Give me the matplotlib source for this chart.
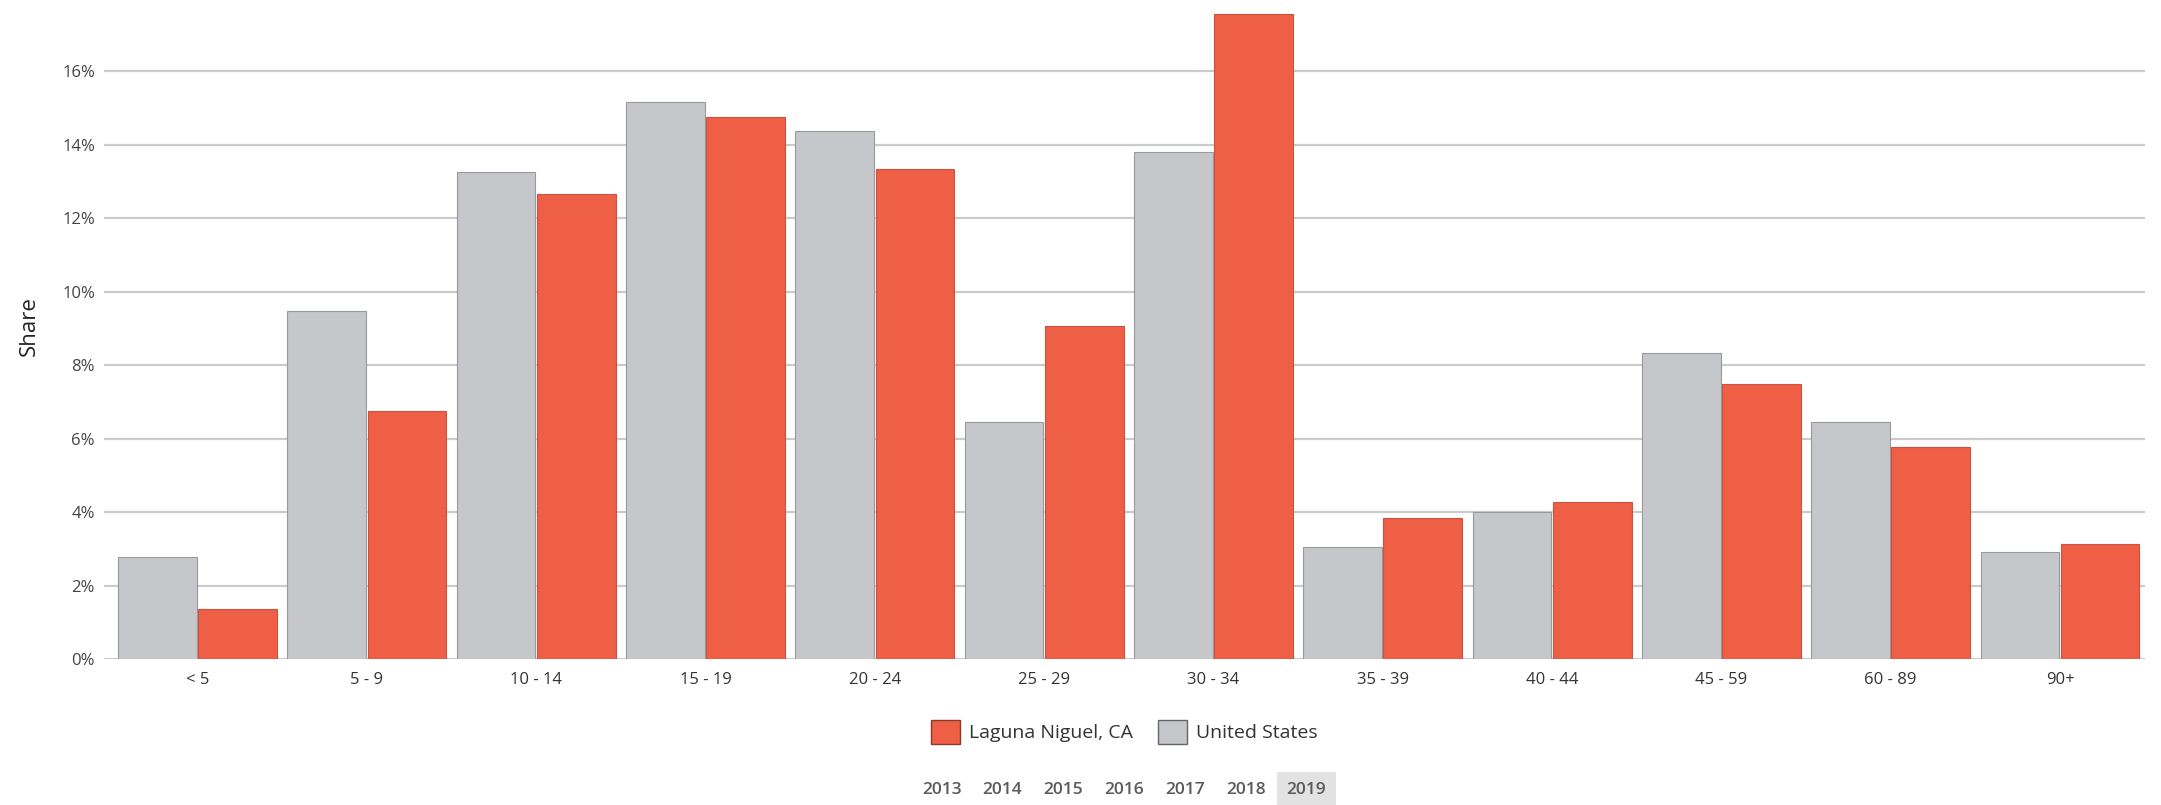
import numpy as np
import matplotlib
matplotlib.use("Agg")
import matplotlib.pyplot as plt
from matplotlib.patches import Patch

plt.rcParams["font.family"] = ["Open Sans", "DejaVu Sans"]

# age groups and share (%) per group
age_groups = ["< 5", "5 - 9", "10 - 14", "15 - 19", "20 - 24", "25 - 29",
              "30 - 34", "35 - 39", "40 - 44", "45 - 59", "60 - 89", "90+"]
us_share = [2.78, 9.47, 13.26, 15.16, 14.36, 6.45, 13.79, 3.05, 4.00, 8.33, 6.45, 2.90]
laguna_share = [1.35, 6.75, 12.65, 14.76, 13.33, 9.06, 17.56, 3.85, 4.27, 7.49, 5.77, 3.14]
years = ["2013", "2014", "2015", "2016", "2017", "2018", "2019"]
selected_year = "2019"

red = "#ee5f46"
gray = "#c6c7ca"

fig = plt.figure(figsize=(21.61, 8.05), dpi=100)
ax = fig.add_axes([104 / 2161, 1 - 659 / 805, 2041 / 2161, 646 / 805])

x = np.arange(len(age_groups))
w = 0.465
ax.bar(x - 0.237, us_share, w, color=gray, edgecolor="#9a9a9c", linewidth=0.8, zorder=2)
ax.bar(x + 0.237, laguna_share, w, color=red, edgecolor="#c9533e", linewidth=0.8, zorder=2)

ax.set_xlim(-0.552, 11.502)
ax.set_ylim(0, 17.58)
ax.set_yticks(range(0, 17, 2))
ax.set_yticklabels([f"{v}%" for v in range(0, 17, 2)])
ax.set_xticks(x)
ax.set_xticklabels(age_groups)
ax.tick_params(axis="y", length=0, pad=6.5, labelsize=12, labelcolor="#444444")
ax.tick_params(axis="x", length=0, pad=9, labelsize=12, labelcolor="#333333")
ax.yaxis.grid(True, color="#cbcbcb", linewidth=1.6)
ax.set_axisbelow(True)
for s in ax.spines.values():
    s.set_visible(False)

fig.text(29 / 2161, 1 - 326 / 805, "Share", rotation=90, ha="center", va="center",
         fontsize=16, color="#222222")

# legend and year selector are centred on the plot area
cx = 1124 / 2161
handles = [Patch(facecolor=red, edgecolor="#8a3a2c", label="Laguna Niguel, CA"),
           Patch(facecolor=gray, edgecolor="#666666", label="United States")]
fig.legend(handles=handles, loc="center", bbox_to_anchor=(cx, 1 - 732 / 805),
           ncol=2, frameon=False, fontsize=14, handlelength=1.5, handleheight=1.6,
           handletextpad=0.45, columnspacing=1.3, labelcolor="#333333")

step = 60.8 / 2161
for i, yr in enumerate(years):
    xp = cx + (i - (len(years) - 1) / 2) * step
    box = None
    if yr == selected_year:
        box = dict(facecolor="#e2e2e2", edgecolor="none", pad=7)
    fig.text(xp, 1 - 790 / 805, yr, ha="center", va="center", fontsize=12.5,
             color="#5a5a5a", fontweight="semibold", bbox=box)

fig.savefig("out.png", dpi=100, facecolor="white")
